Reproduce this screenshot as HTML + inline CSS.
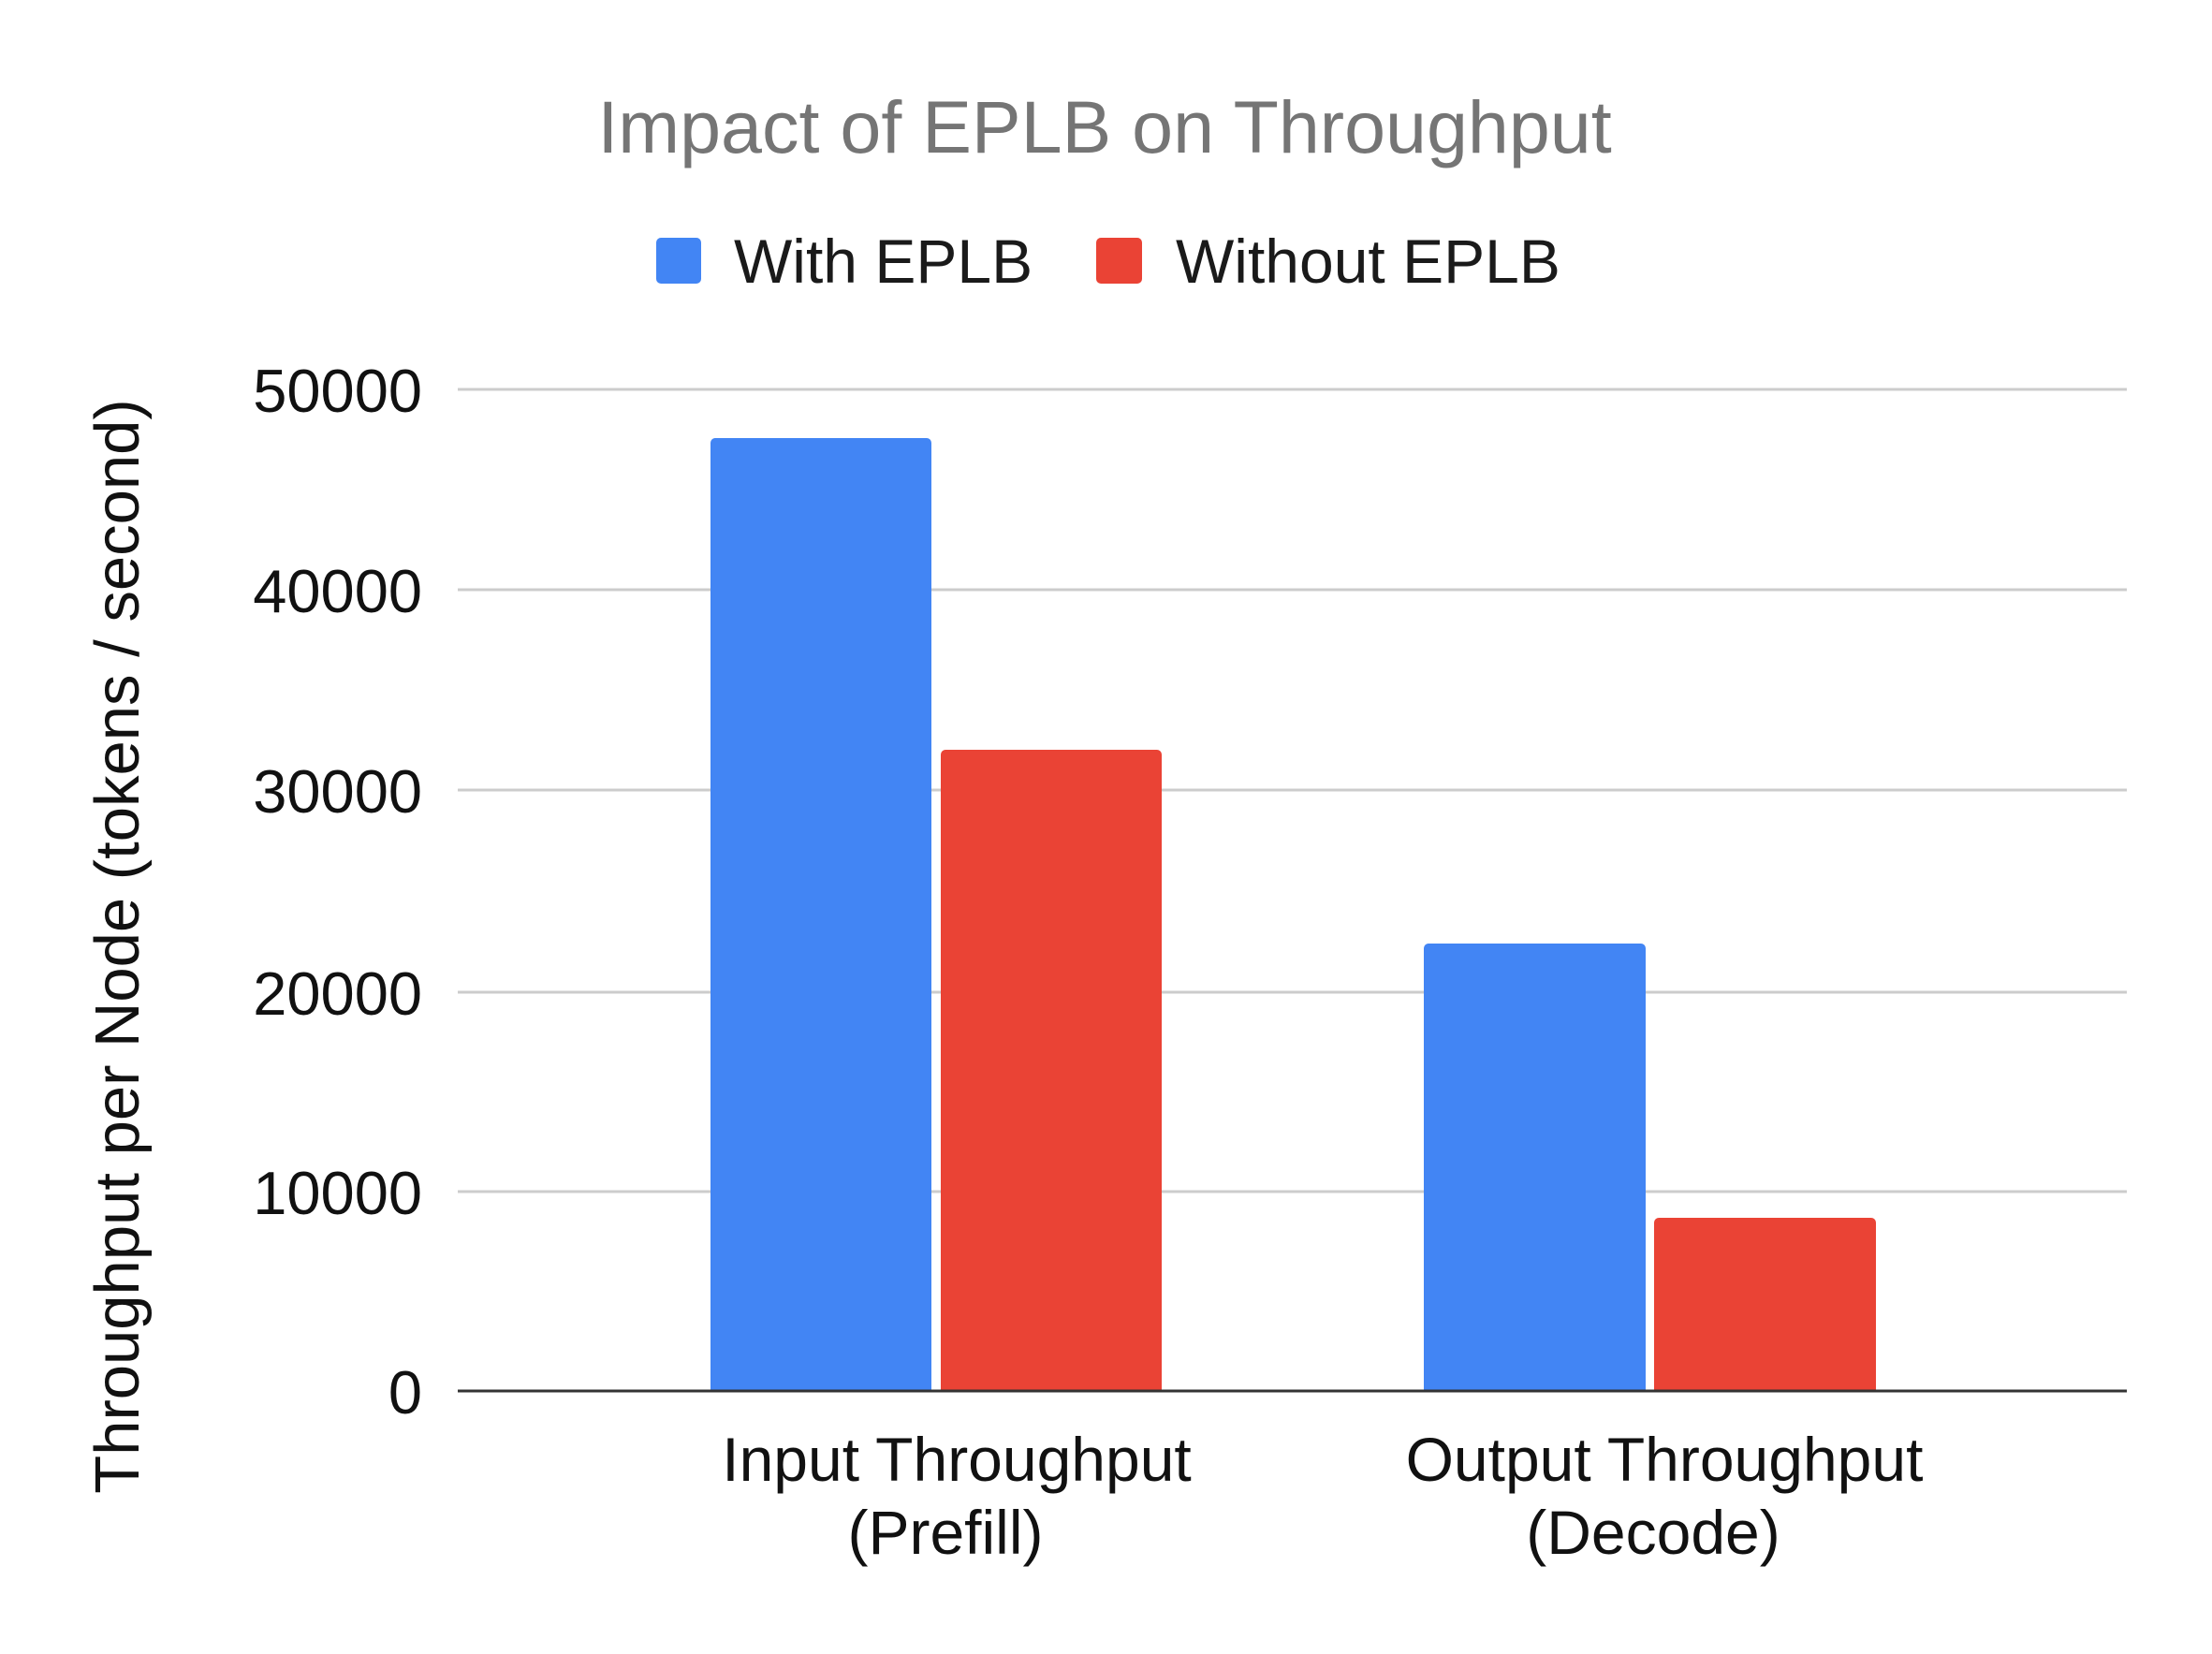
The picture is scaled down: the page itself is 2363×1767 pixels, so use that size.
<!DOCTYPE html>
<html><head><meta charset="utf-8"><style>
html,body{margin:0;padding:0;background:#fff;}
svg{display:block;}
text{font-family:"Liberation Sans",Arial,sans-serif;}
</style></head><body>
<svg width="2363" height="1767" viewBox="0 0 2363 1767" xmlns="http://www.w3.org/2000/svg">
<rect width="2363" height="1767" fill="#fff"/>
<text x="1180" y="163" font-size="79" fill="#757575" text-anchor="middle">Impact of EPLB on Throughput</text>
<rect x="701" y="254" width="48" height="49" rx="5" fill="#4285f4"/>
<text x="784" y="302" font-size="66" fill="#1a1a1a">With EPLB</text>
<rect x="1171" y="254" width="49" height="49" rx="5" fill="#ea4335"/>
<text x="1256" y="302" font-size="66" fill="#1a1a1a">Without EPLB</text>
<g stroke="#cccccc" stroke-width="3">
<line x1="489" x2="2272" y1="416" y2="416"/>
<line x1="489" x2="2272" y1="630" y2="630"/>
<line x1="489" x2="2272" y1="844" y2="844"/>
<line x1="489" x2="2272" y1="1060" y2="1060"/>
<line x1="489" x2="2272" y1="1273" y2="1273"/>
</g>
<g font-size="65" fill="#111" text-anchor="end">
<text x="451" y="440">50000</text>
<text x="451" y="654">40000</text>
<text x="451" y="868">30000</text>
<text x="451" y="1084">20000</text>
<text x="451" y="1297">10000</text>
<text x="451" y="1510">0</text>
</g>
<path d="M759 1486 V473 a5 5 0 0 1 5 -5 H990 a5 5 0 0 1 5 5 V1486 Z" fill="#4285f4"/>
<path d="M1005 1486 V806 a5 5 0 0 1 5 -5 H1236 a5 5 0 0 1 5 5 V1486 Z" fill="#ea4335"/>
<path d="M1521 1486 V1013 a5 5 0 0 1 5 -5 H1753 a5 5 0 0 1 5 5 V1486 Z" fill="#4285f4"/>
<path d="M1767 1486 V1306 a5 5 0 0 1 5 -5 H1999 a5 5 0 0 1 5 5 V1486 Z" fill="#ea4335"/>
<line x1="489" x2="2272" y1="1486" y2="1486" stroke="#333" stroke-width="3"/>
<g font-size="66" fill="#111" text-anchor="middle">
<text x="1022" y="1582">Input Throughput</text>
<text x="1010" y="1660">(Prefill)</text>
<text x="1778" y="1582">Output Throughput</text>
<text x="1766" y="1660">(Decode)</text>
</g>
<text transform="translate(148,1011) rotate(-90)" font-size="67" fill="#111" text-anchor="middle">Throughput per Node (tokens / second)</text>
</svg>
</body></html>
